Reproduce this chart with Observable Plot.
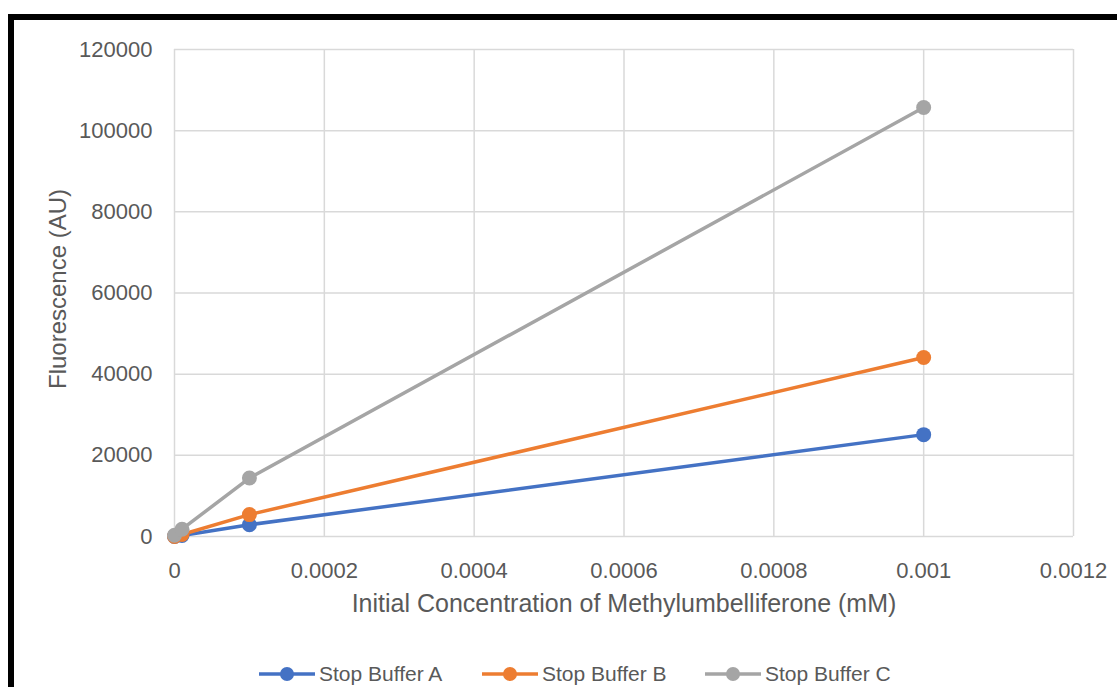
<!DOCTYPE html>
<html>
<head>
<meta charset="utf-8">
<script src="https://cdn.jsdelivr.net/npm/d3@7"></script>
<script src="https://cdn.jsdelivr.net/npm/@observablehq/plot@0.6"></script>
<style>
  html, body { margin: 0; padding: 0; background: #fff; width: 1117px; height: 687px; overflow: hidden; }
  body { position: relative; font-family: "Liberation Sans", Arial, sans-serif; }
  #border { position: absolute; left: 8px; top: 14px; width: 1200px; height: 800px;
            border-top: 6px solid #000; border-left: 6px solid #000; box-sizing: border-box; }
  #chart { position: absolute; left: 0; top: 0; }
  #legend { position: absolute; left: 259px; top: 662px; display: flex; align-items: center;
            font-size: 21px; color: #595959; white-space: nowrap; }
  .item { display: flex; align-items: center; width: 223px; }
  .item svg { margin-right: 4px; }
</style>
</head>
<body>
<div id="border"></div>
<div id="chart"></div>
<div id="legend"></div>
<script>
const concentration = [0, 0.00001, 0.0001, 0.001];
const seriesNames = ["Stop Buffer A", "Stop Buffer B", "Stop Buffer C"];
const bufferA = [0, 250, 2900, 25100];
const bufferB = [0, 500, 5400, 44100];
const bufferC = [300, 1800, 14400, 105700];
const seriesColors = ["#4472C4", "#ED7D31", "#A5A5A5"];
const xTicks = [0, 0.0002, 0.0004, 0.0006, 0.0008, 0.001, 0.0012];
const yTicks = [0, 20000, 40000, 60000, 80000, 100000, 120000];
const xTitle = "Initial Concentration of Methylumbelliferone (mM)";
const yTitle = "Fluorescence (AU)";

const allSeries = [bufferA, bufferB, bufferC];
const rows = [];
allSeries.forEach((vals, s) => vals.forEach((v, i) => rows.push({series: seriesNames[s], x: concentration[i], y: v})));

const grid = "#d9d9d9";
const txt = "#595959";

const chart = Plot.plot({
  width: 1117,
  height: 600,
  marginLeft: 174,
  marginRight: 44,
  marginTop: 49,
  marginBottom: 64,
  style: {fontFamily: "Liberation Sans, Arial, sans-serif", background: "transparent", overflow: "visible"},
  x: {domain: [0, 0.0012], ticks: xTicks},
  y: {domain: [0, 120000], ticks: yTicks},
  color: {domain: seriesNames, range: seriesColors},
  marks: [
    Plot.ruleX(xTicks, {stroke: grid, strokeWidth: 1.5}),
    Plot.ruleY(yTicks, {stroke: grid, strokeWidth: 1.5}),
    Plot.axisY({ticks: yTicks, tickSize: 0, tickPadding: 22, fontSize: 22, fill: txt, label: null, tickFormat: d => String(d)}),
    Plot.axisX({ticks: xTicks, tickSize: 0, tickPadding: 26, fontSize: 22, fill: txt, label: null, tickFormat: d => String(d)}),
    Plot.line(rows, {x: "x", y: "y", z: "series", stroke: "series", strokeWidth: 3.5}),
    Plot.dot(rows, {x: "x", y: "y", fill: "series", r: 7.5}),
    Plot.text([yTitle], {frameAnchor: "left", textAnchor: "middle", dx: -116, dy: -4, rotate: -90, fontSize: 24, fill: txt}),
    Plot.text([xTitle], {frameAnchor: "bottom", textAnchor: "middle", dy: 75, fontSize: 25, fill: txt})
  ]
});
document.getElementById("chart").appendChild(chart);

const legend = document.getElementById("legend");
seriesNames.forEach((name, i) => {
  const item = document.createElement("div");
  item.className = "item";
  item.innerHTML = `<svg width="56" height="16"><line x1="0" y1="8" x2="56" y2="8" stroke="${seriesColors[i]}" stroke-width="3.5"/><circle cx="28" cy="8" r="7" fill="${seriesColors[i]}"/></svg><span>${name}</span>`;
  legend.appendChild(item);
});
</script>
</body>
</html>
